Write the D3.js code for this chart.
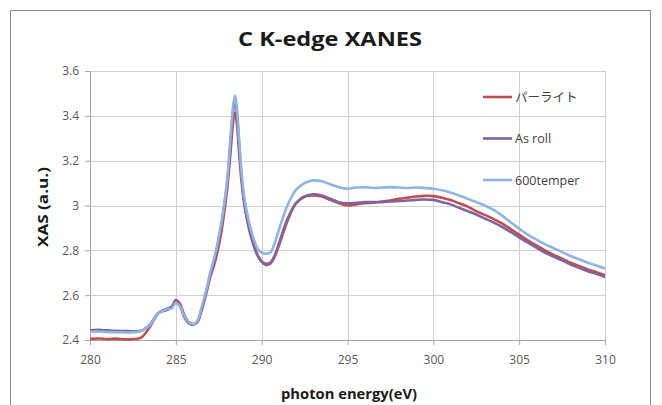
<!DOCTYPE html>
<html>
<head>
<meta charset="utf-8">
<script src="https://cdn.jsdelivr.net/npm/d3@7"></script>
<style>
  body { margin: 0; background: #fff; }
  svg { display: block; }
  .tick text { fill: #595959; font-family: "Open Sans", "Noto Sans CJK JP", sans-serif; font-size: 12px; }
</style>
</head>
<body>
<div id="chart"></div>
<script>
// photon energy (eV)
var energy = [280, 280.5, 281, 281.5, 282, 282.5, 283, 283.5, 284, 284.5, 284.75, 285, 285.25, 285.5, 285.75,
  286, 286.25, 286.5, 286.75, 287, 287.25, 287.5, 287.75, 288, 288.2, 288.35, 288.45, 288.55, 288.7, 288.85,
  289, 289.25, 289.5, 289.75, 290, 290.25, 290.5, 290.75, 291, 291.5, 292, 292.5, 293, 293.5, 294, 294.5,
  295, 295.5, 296, 296.5, 297, 297.5, 298, 298.5, 299, 299.5, 300, 300.5, 301, 301.5, 302, 302.5, 303,
  303.5, 304, 304.5, 305, 305.5, 306, 306.5, 307, 307.5, 308, 308.5, 309, 309.5, 310];

var pearlite = [2.405, 2.407, 2.404, 2.406, 2.403, 2.404, 2.412, 2.460, 2.520, 2.535, 2.545, 2.578, 2.560, 2.510, 2.480,
  2.470, 2.480, 2.530, 2.600, 2.680, 2.740, 2.820, 2.930, 3.080, 3.250, 3.380, 3.415, 3.370, 3.220, 3.090,
  3.000, 2.900, 2.830, 2.780, 2.750, 2.735, 2.740, 2.770, 2.820, 2.930, 3.010, 3.040, 3.045, 3.040, 3.025, 3.010,
  3.000, 3.005, 3.010, 3.012, 3.018, 3.022, 3.030, 3.035, 3.040, 3.043, 3.042, 3.035, 3.025, 3.010, 2.995, 2.975, 2.958,
  2.940, 2.920, 2.895, 2.870, 2.845, 2.822, 2.800, 2.780, 2.763, 2.745, 2.730, 2.715, 2.702, 2.689];

var asRoll = [2.443, 2.445, 2.443, 2.441, 2.440, 2.439, 2.442, 2.470, 2.522, 2.540, 2.548, 2.570, 2.550, 2.500, 2.475,
  2.468, 2.480, 2.540, 2.610, 2.690, 2.760, 2.850, 2.960, 3.110, 3.300, 3.430, 3.470, 3.420, 3.260, 3.110,
  3.010, 2.910, 2.835, 2.780, 2.750, 2.740, 2.745, 2.775, 2.830, 2.940, 3.010, 3.040, 3.050, 3.045, 3.030, 3.015,
  3.010, 3.012, 3.015, 3.015, 3.015, 3.018, 3.020, 3.022, 3.025, 3.027, 3.025, 3.015, 3.005, 2.990, 2.975, 2.960, 2.942,
  2.925, 2.905, 2.882, 2.858, 2.835, 2.812, 2.790, 2.772, 2.755, 2.737, 2.722, 2.707, 2.695, 2.681];

var temper600 = [2.437, 2.438, 2.436, 2.435, 2.434, 2.434, 2.440, 2.468, 2.520, 2.538, 2.540, 2.565, 2.550, 2.505, 2.480,
  2.470, 2.485, 2.545, 2.615, 2.700, 2.770, 2.860, 2.970, 3.120, 3.320, 3.450, 3.490, 3.440, 3.280, 3.130,
  3.030, 2.930, 2.860, 2.810, 2.790, 2.785, 2.790, 2.830, 2.890, 3.000, 3.070, 3.100, 3.112, 3.108, 3.095, 3.082,
  3.075, 3.080, 3.082, 3.078, 3.080, 3.082, 3.080, 3.078, 3.080, 3.078, 3.075, 3.068, 3.058, 3.045, 3.030, 3.015, 3.000,
  2.980, 2.955, 2.925, 2.897, 2.870, 2.848, 2.828, 2.810, 2.792, 2.775, 2.760, 2.745, 2.732, 2.719];

var seriesNames = ["パーライト", "As roll", "600temper"];
var seriesColours = ["#c0504d", "#8064a2", "#8eb4e3"];
var xTicks = [280, 285, 290, 295, 300, 305, 310];
var yTicks = [2.4, 2.6, 2.8, 3.0, 3.2, 3.4, 3.6];

var W = 662, H = 405;
var margin = { top: 71, right: 57, bottom: 65, left: 90 };
var width = W - margin.left - margin.right;
var height = H - margin.top - margin.bottom;
var font = '"Open Sans", "Noto Sans CJK JP", sans-serif';

var svg = d3.select("#chart").append("svg")
  .attr("width", W)
  .attr("height", H);

// outer chart border
svg.append("rect")
  .attr("x", 10.5).attr("y", 10.5)
  .attr("width", 640).attr("height", 420)
  .attr("fill", "none")
  .attr("stroke", "#8c8c8c");

var x = d3.scaleLinear().domain([280, 310]).range([0, width]);
var y = d3.scaleLinear().domain([2.4, 3.6]).range([height, 0]);

var g = svg.append("g")
  .attr("transform", "translate(" + margin.left + "," + margin.top + ")");

// grid
g.append("g").attr("class", "grid")
  .selectAll("line.h").data(yTicks).enter().append("line")
  .attr("x1", 0).attr("x2", width)
  .attr("y1", function (d) { return Math.round(y(d)) + 0.5; })
  .attr("y2", function (d) { return Math.round(y(d)) + 0.5; })
  .attr("stroke", "#d0d0d0");
g.append("g").attr("class", "grid")
  .selectAll("line.v").data(xTicks.slice(1)).enter().append("line")
  .attr("y1", 0).attr("y2", height)
  .attr("x1", function (d) { return Math.round(x(d)) + 0.5; })
  .attr("x2", function (d) { return Math.round(x(d)) + 0.5; })
  .attr("stroke", "#d0d0d0");

// axes
var yAxis = g.append("g")
  .call(d3.axisLeft(y).tickValues(yTicks).tickSize(5).tickPadding(6)
    .tickFormat(function (d) { return d3.format("")(+d.toFixed(1)); }));
yAxis.select(".domain").attr("stroke", "#a6a6a6");
yAxis.selectAll(".tick line").attr("stroke", "#a6a6a6");

var xAxis = g.append("g")
  .attr("transform", "translate(0," + height + ")")
  .call(d3.axisBottom(x).tickValues(xTicks).tickSize(5).tickPadding(10));
xAxis.select(".domain").attr("stroke", "#a6a6a6");
xAxis.selectAll(".tick line").attr("stroke", "#a6a6a6");

// lines
var allSeries = [pearlite, asRoll, temper600];
var line = d3.line()
  .x(function (d, i) { return x(energy[i]); })
  .y(function (d) { return y(d); })
  .curve(d3.curveCatmullRom.alpha(0.5));

allSeries.forEach(function (s, k) {
  g.append("path")
    .datum(s)
    .attr("fill", "none")
    .attr("stroke", seriesColours[k])
    .attr("stroke-width", 2.6)
    .attr("stroke-linejoin", "round")
    .attr("d", line);
});

// legend
var legend = svg.append("g");
seriesNames.forEach(function (name, k) {
  var ly = 97 + k * 41.5;
  legend.append("line")
    .attr("x1", 483).attr("x2", 512)
    .attr("y1", ly).attr("y2", ly)
    .attr("stroke", seriesColours[k])
    .attr("stroke-width", 2.6);
  legend.append("text")
    .attr("x", 515).attr("y", ly + 4.5)
    .attr("font-family", font)
    .attr("font-size", 12.5)
    .attr("fill", "#404040")
    .text(name);
});

// titles
svg.append("text")
  .attr("x", 330).attr("y", 46)
  .attr("text-anchor", "middle")
  .attr("font-family", font)
  .attr("font-weight", "bold")
  .attr("font-size", 20)
  .attr("textLength", 184)
  .attr("lengthAdjust", "spacingAndGlyphs")
  .attr("fill", "#1a1a1a")
  .text("C K-edge XANES");

svg.append("text")
  .attr("x", 349).attr("y", 399)
  .attr("text-anchor", "middle")
  .attr("font-family", font)
  .attr("font-weight", "bold")
  .attr("font-size", 14)
  .attr("textLength", 136)
  .attr("lengthAdjust", "spacingAndGlyphs")
  .attr("fill", "#1a1a1a")
  .text("photon energy(eV)");

svg.append("text")
  .attr("transform", "translate(48,207) rotate(-90)")
  .attr("text-anchor", "middle")
  .attr("font-family", font)
  .attr("font-weight", "bold")
  .attr("font-size", 14)
  .attr("textLength", 80)
  .attr("lengthAdjust", "spacingAndGlyphs")
  .attr("fill", "#1a1a1a")
  .text("XAS (a.u.)");
</script>
</body>
</html>
